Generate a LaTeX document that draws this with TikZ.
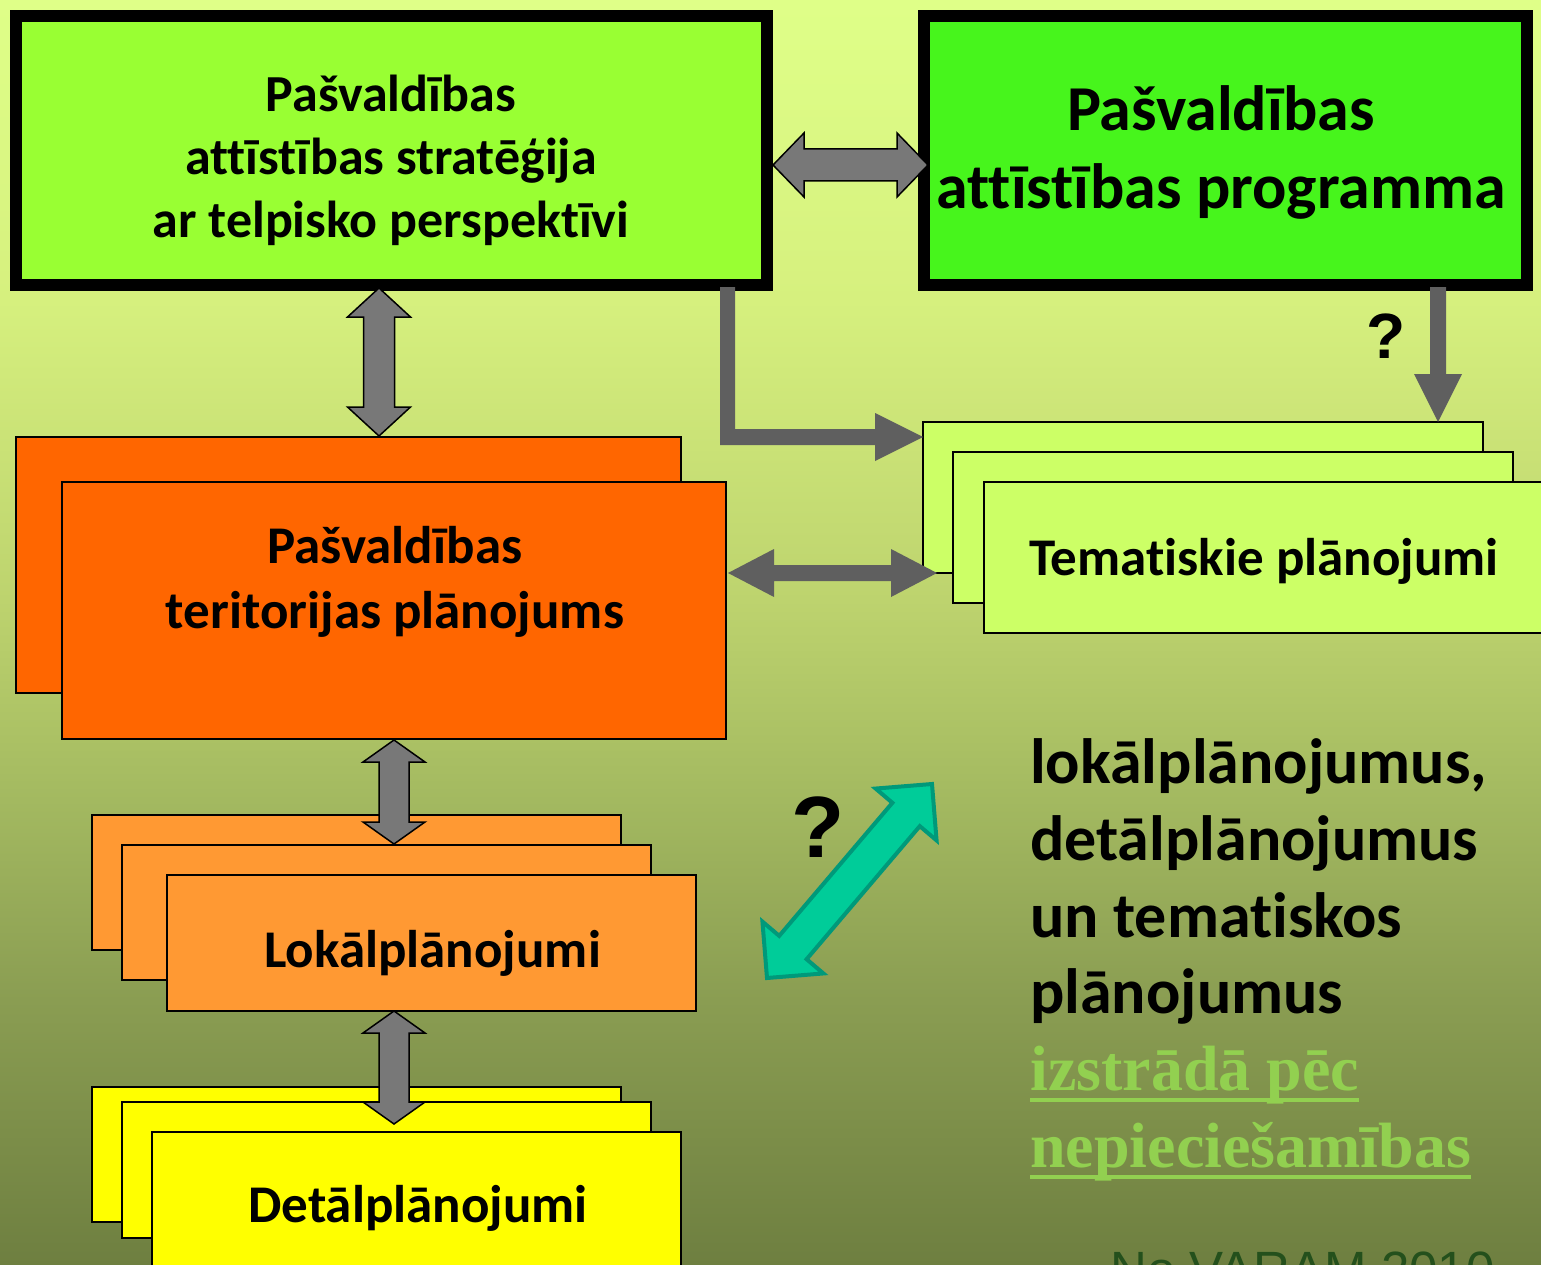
\documentclass[tikz,border=0pt]{standalone}
\usepackage{fontspec}
\setmainfont{Carlito}[Ligatures={NoCommon}]
\newfontfamily\serifbf{Liberation Serif}
\newfontfamily\arialf{Liberation Sans}
\usetikzlibrary{calc}

\definecolor{bgA}{HTML}{6E7F40}
\definecolor{bgB}{HTML}{8A9D52}
\definecolor{bgC}{HTML}{A3B960}
\definecolor{bgD}{HTML}{BDD36E}
\definecolor{bgE}{HTML}{D6F07E}
\definecolor{bgF}{HTML}{DFFF88}
\pgfdeclareverticalshading{bgshade}{100bp}{color(0bp)=(bgA); color(25bp)=(bgA); color(35.47bp)=(bgB); color(43.38bp)=(bgC); color(51.28bp)=(bgD); color(63.14bp)=(bgE); color(75bp)=(bgF); color(100bp)=(bgF)}
\definecolor{limeA}{HTML}{99FF33}
\definecolor{greenB}{HTML}{47F51C}
\definecolor{orangeA}{HTML}{FF6600}
\definecolor{orangeB}{HTML}{FF9933}
\definecolor{yellowA}{HTML}{FFFF00}
\definecolor{lightlime}{HTML}{CCFF66}
\definecolor{arrowgray}{HTML}{787878}
\definecolor{darkarrow}{HTML}{5F5F5F}
\definecolor{tealfill}{HTML}{00CC99}
\definecolor{tealline}{HTML}{00997A}
\definecolor{serifgreen}{HTML}{92D050}
\definecolor{creditgreen}{HTML}{24501C}

% block double arrow: #1 style, #2 start, #3 end, #4 shaft half, #5 head half, #6 head length
\newcommand\dblarrow[6]{%
  \path[#1] (#2)
   -- ($(#2)!#6!(#3)!#5!90:(#3)$)
   -- ($(#2)!#6!(#3)!#4!90:(#3)$)
   -- ($(#3)!#6!(#2)!#4!-90:(#2)$)
   -- ($(#3)!#6!(#2)!#5!-90:(#2)$)
   -- (#3)
   -- ($(#3)!#6!(#2)!#5!90:(#2)$)
   -- ($(#3)!#6!(#2)!#4!90:(#2)$)
   -- ($(#2)!#6!(#3)!#4!-90:(#3)$)
   -- ($(#2)!#6!(#3)!#5!-90:(#3)$)
   -- cycle;}

\begin{document}
\begin{tikzpicture}[x=1pt,y=-1pt,
  thickbox/.style={draw=black, line width=12pt, inner sep=0pt, outer sep=0pt},
  thinbox/.style={draw=black, line width=1.5pt, inner sep=0pt, outer sep=0pt},
  boxtext/.style={font=\bfseries, align=center, inner sep=0pt, text=black},
  lightarrow/.style={fill=arrowgray, draw=black, line width=1.5pt, line join=miter},
  darkarr/.style={fill=darkarrow},
  tealarrow/.style={fill=tealfill, draw=tealline, line width=4pt, line join=miter},
  righttext/.style={font=\bfseries\fontsize{64}{77}\selectfont, anchor=base west, inner sep=0pt, text=black},
  greentext/.style={font=\serifbf\bfseries\fontsize{64}{77}\selectfont, anchor=base west, inner sep=0pt, text=serifgreen},
  qmark/.style={font=\arialf\bfseries, anchor=base, inner sep=0pt, text=black}]

\useasboundingbox (0,0) rectangle (1541,1265);
\shade[shading=bgshade] (0,0) rectangle (1541,1265);
\clip (0,0) rectangle (1541,1265);

% top boxes
\node[thickbox, fill=limeA, minimum width=751pt, minimum height=269pt] (strat) at (391.5,150.5) {};
\node[thickbox, fill=greenB, minimum width=603pt, minimum height=269pt] (prog) at (1225.5,150.5) {};

% territory plan
\node[thinbox, fill=orangeA, minimum width=665pt, minimum height=256pt] (terB) at (348.5,565) {};
\node[thinbox, fill=orangeA, minimum width=664pt, minimum height=257pt] (ter) at (394,610.5) {};

% thematic plans
\node[thinbox, fill=lightlime, minimum width=560pt, minimum height=151pt] (temC) at (1203,497.5) {};
\node[thinbox, fill=lightlime, minimum width=560pt, minimum height=151pt] (temB) at (1233,527.5) {};
\node[thinbox, fill=lightlime, minimum width=566pt, minimum height=151pt] (tem) at (1267,557.5) {};

% local plans
\node[thinbox, fill=orangeB, minimum width=529pt, minimum height=135pt] (lokC) at (356.5,882.5) {};
\node[thinbox, fill=orangeB, minimum width=529pt, minimum height=135pt] (lokB) at (386.5,912.5) {};
\node[thinbox, fill=orangeB, minimum width=529pt, minimum height=136pt] (lok) at (431.5,943) {};

% detail plans
\node[thinbox, fill=yellowA, minimum width=529pt, minimum height=135pt] (detC) at (356.5,1154.5) {};
\node[thinbox, fill=yellowA, minimum width=529pt, minimum height=136pt] (detB) at (386.5,1170) {};
\node[thinbox, fill=yellowA, minimum width=529pt, minimum height=158pt] (det) at (416.5,1211) {};

% texts
\node[boxtext, font=\bfseries\fontsize{52}{63}\selectfont] (stratT) at (391,160) {Pašvaldības\\attīstības stratēģija\\ar telpisko perspektīvi};
\node[boxtext, font=\bfseries\fontsize{64}{78}\selectfont] (progT) at (1221,152) {Pašvaldības\\attīstības programma};
\node[boxtext, font=\bfseries\fontsize{53}{65}\selectfont] (terT) at (395,582) {Pašvaldības\\teritorijas plānojums};
\node[boxtext, font=\bfseries\fontsize{53}{65}\selectfont, anchor=base] (temT) at (1264,575) {Tematiskie plānojumi};
\node[boxtext, font=\bfseries\fontsize{53}{65}\selectfont, anchor=base] (lokT) at (432.5,967) {Lokālplānojumi};
\node[boxtext, font=\bfseries\fontsize{53}{65}\selectfont, anchor=base] (detT) at (418,1222) {Detālplānojumi};

% connectors
\coordinate (a1s) at (773,165); \coordinate (a1e) at (928,165);
\dblarrow{lightarrow}{a1s}{a1e}{16pt}{32pt}{31pt}
\coordinate (a2s) at (379,288); \coordinate (a2e) at (379,436);
\dblarrow{lightarrow}{a2s}{a2e}{15.5pt}{31.5pt}{29pt}
\coordinate (a3s) at (394,740); \coordinate (a3e) at (394,844);
\dblarrow{lightarrow}{a3s}{a3e}{15pt}{31pt}{22pt}
\coordinate (a4s) at (394,1011); \coordinate (a4e) at (394,1124);
\dblarrow{lightarrow}{a4s}{a4e}{15pt}{31pt}{22pt}
\coordinate (a5s) at (728,573); \coordinate (a5e) at (937,573);
\dblarrow{darkarr}{a5s}{a5e}{8pt}{24pt}{46pt}
\coordinate (tls) at (767,978); \coordinate (tle) at (932,784);
\dblarrow{tealarrow}{tls}{tle}{18pt}{40pt}{40pt}

% elbow arrow strategy -> thematic
\fill[darkarrow] (720,287) -- (735,287) -- (735,429) -- (875,429) -- (875,413) -- (923,437)
  -- (875,461) -- (875,445) -- (720,445) -- cycle;
% down arrow programme -> thematic
\fill[darkarrow] (1430,287) -- (1446,287) -- (1446,374) -- (1462,374) -- (1438,422)
  -- (1414,374) -- (1430,374) -- cycle;

% question marks
\node[qmark, font=\arialf\bfseries\fontsize{64}{70}\selectfont] (q1) at (1386,358) {?};
\node[qmark, font=\arialf\bfseries\fontsize{87}{90}\selectfont] (q2) at (818,857) {?};

% right text
\node[righttext] (r1) at (1030,783) {lokālplānojumus,};
\node[righttext] (r2) at (1030,860) {detālplānojumus};
\node[righttext] (r3) at (1030,937) {un tematiskos};
\node[righttext] (r4) at (1030,1013) {plānojumus};
\node[greentext] (g1) at (1030,1090) {izstrādā pēc};
\node[greentext] (g2) at (1030,1167) {nepieciešamības};
\draw[serifgreen, line width=4pt] ([yshift=-10pt]g1.base west) -- ([yshift=-10pt]g1.base east);
\draw[serifgreen, line width=4pt] ([yshift=-10pt]g2.base west) -- ([yshift=-10pt]g2.base east);

% credit
\node[font=\arialf\fontsize{51}{60}\selectfont, text=creditgreen, anchor=base west, inner sep=0pt] (cred) at (1110,1287) {No VARAM 2010};
\end{tikzpicture}
\end{document}
